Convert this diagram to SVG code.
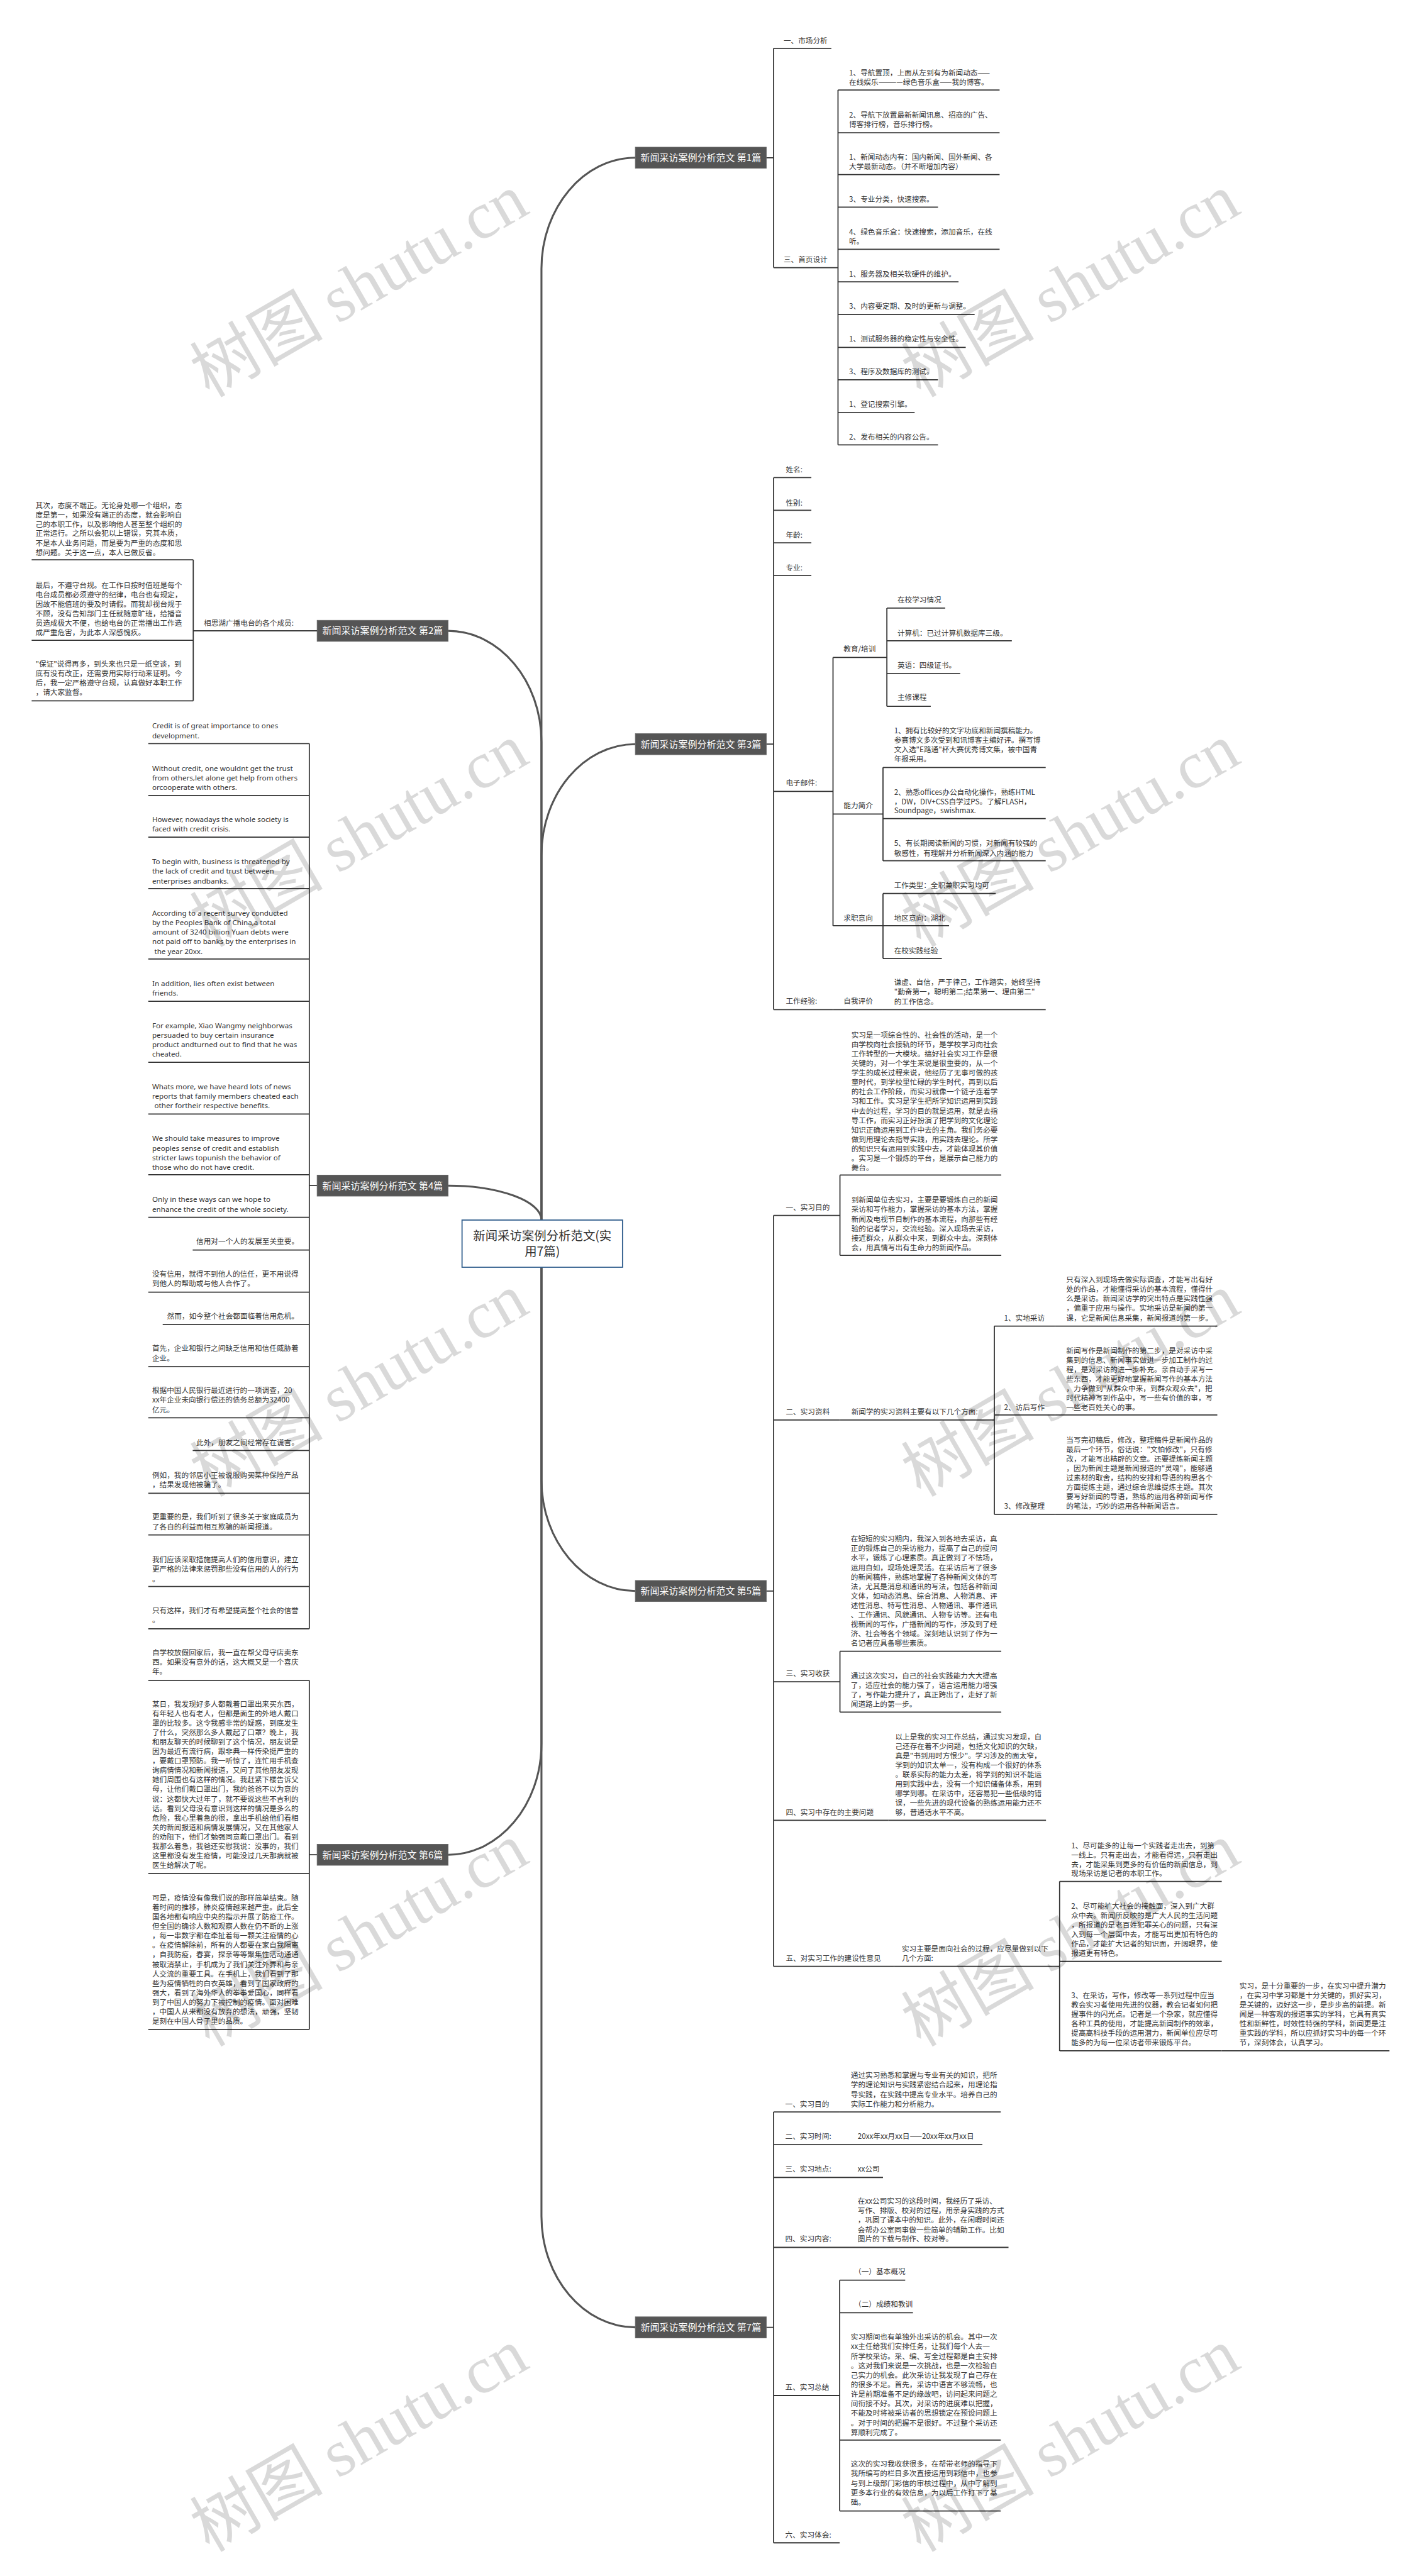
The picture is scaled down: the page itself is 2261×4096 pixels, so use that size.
<svg xmlns="http://www.w3.org/2000/svg" width="2261" height="4096" viewBox="0 0 2261 4096">
<style>
.t{font-family:"Noto Sans CJK SC","Noto Sans",sans-serif;font-size:13.2px;fill:#333}
.e{font-family:"Noto Sans","Liberation Sans",sans-serif;font-size:13.2px;fill:#333}
.n{font-family:"Noto Sans CJK SC",sans-serif;font-size:17px;fill:#fff;text-anchor:middle}
.c{font-family:"Noto Sans CJK SC",sans-serif;font-size:22px;fill:#333;text-anchor:middle}
.r{text-anchor:end}
.u,.v{stroke:#333;stroke-width:2;fill:none}
.m{stroke:#555;stroke-width:3.5;fill:none}
.b{fill:#555;stroke:#666;stroke-width:1}
.w{font-family:"Noto Sans CJK SC",sans-serif;font-size:120px;fill:#000;fill-opacity:0.15;text-anchor:middle}
</style>
<rect width="2261" height="4096" fill="#fff"/>
<g transform="scale(0.883)">
<g id="connectors">
<path class="m" d="M975 2197 L975 484 C975 374 1051 284 1144 284"/>
<path class="m" d="M975 2197 L975 1336 C975 1226 899 1136 807 1136"/>
<path class="m" d="M975 2197 L975 1540 C975 1430 1051 1340 1144 1340"/>
<path class="m" d="M975 2197 C975 2163 899 2135 807 2135"/>
<path class="m" d="M975 2282 L975 2665 C975 2775 1051 2865 1144 2865"/>
<path class="m" d="M975 2282 L975 3140 C975 3250 899 3340 807 3340"/>
<path class="m" d="M975 2282 L975 3991 C975 4101 1051 4191 1144 4191"/>
<path class="v" d="M1380 284H1393M1393 87V482M1509 162V801"/>
<path class="v" d="M1380 1340H1393M1393 860V1818M1500 1184V1667M1597 1095V1272M1590 1382V1550M1590 1609V1726"/>
<path class="v" d="M571 1136H348M348 1008V1262"/>
<path class="v" d="M571 2135H557M557 1339V2933"/>
<path class="v" d="M571 3340H557M557 3026V3654.5"/>
<path class="v" d="M1380 2865H1393M1393 2188.7V3541M1512.5 2116V2260.5M1790.5 2388V2727M1512.5 2973.6V3083M1908 3388V3693"/>
<path class="v" d="M1380 4191H1393M1393 3803V4579M1512 4106V4521.6"/>
</g>
<g id="center"><rect x="832" y="2197" width="289" height="85" fill="#fff" stroke="#2f5d8c" stroke-width="2"/><text class="c" x="976.5" y="2233">新闻采访案例分析范文(实<tspan x="976.5" y="2262">用7篇)</tspan></text></g>
<g id="node1"><rect class="b" x="1144" y="265" width="236" height="38"/><text class="n" x="1262" y="290">新闻采访案例分析范文 第1篇</text></g>
<g id="node2"><rect class="b" x="571" y="1117" width="236" height="38"/><text class="n" x="689" y="1142">新闻采访案例分析范文 第2篇</text></g>
<g id="node3"><rect class="b" x="1144" y="1321" width="236" height="38"/><text class="n" x="1262" y="1346">新闻采访案例分析范文 第3篇</text></g>
<g id="node4"><rect class="b" x="571" y="2116" width="236" height="38"/><text class="n" x="689" y="2141">新闻采访案例分析范文 第4篇</text></g>
<g id="node5"><rect class="b" x="1144" y="2846" width="236" height="38"/><text class="n" x="1262" y="2871">新闻采访案例分析范文 第5篇</text></g>
<g id="node6"><rect class="b" x="571" y="3321" width="236" height="38"/><text class="n" x="689" y="3346">新闻采访案例分析范文 第6篇</text></g>
<g id="node7"><rect class="b" x="1144" y="4172" width="236" height="38"/><text class="n" x="1262" y="4197">新闻采访案例分析范文 第7篇</text></g>

<g id="b1-1"><text class="t" x="1411" y="78">一、市场分析</text><path class="u" d="M1393 87H1497"/></g>
<g id="b1-3"><text class="t" x="1411" y="472">三、首页设计</text><path class="u" d="M1393 482H1509"/></g>
<g id="b1-a"><text class="t"><tspan x="1529" y="136">1、导航置顶，上面从左到有为新闻动态——</tspan><tspan x="1529" y="153">在线娱乐————绿色音乐盒——我的博客。</tspan></text><path class="u" d="M1509 162H1800"/></g>
<g id="b1-b"><text class="t"><tspan x="1529" y="212">2、导航下放置最新新闻讯息、招商的广告、</tspan><tspan x="1529" y="229">博客排行榜，音乐排行榜。</tspan></text><path class="u" d="M1509 239H1800"/></g>
<g id="b1-c"><text class="t"><tspan x="1529" y="288">1、新闻动态内有：国内新闻、国外新闻、各</tspan><tspan x="1529" y="304.5">大学最新动态。（并不断增加内容）</tspan></text><path class="u" d="M1509 314.5H1800"/></g>
<g id="b1-d"><text class="t" x="1529" y="363">3、专业分类，快速搜索。</text><path class="u" d="M1509 373H1689"/></g>
<g id="b1-e"><text class="t"><tspan x="1529" y="422">4、绿色音乐盒：快速搜索，添加音乐，在线</tspan><tspan x="1529" y="439">听。</tspan></text><path class="u" d="M1509 449H1800"/></g>
<g id="b1-f"><text class="t" x="1529" y="498">1、服务器及相关软硬件的维护。</text><path class="u" d="M1509 507.5H1726"/></g>
<g id="b1-g"><text class="t" x="1529" y="556">3、内容要定期、及时的更新与调整。</text><path class="u" d="M1509 566.5H1755"/></g>
<g id="b1-h"><text class="t" x="1529" y="615">1、测试服务器的稳定性与安全性。</text><path class="u" d="M1509 625.5H1739"/></g>
<g id="b1-i"><text class="t" x="1529" y="674">3、程序及数据库的测试。</text><path class="u" d="M1509 684H1689"/></g>
<g id="b1-j"><text class="t" x="1529" y="733">1、登记搜索引擎。</text><path class="u" d="M1509 743H1647"/></g>
<g id="b1-k"><text class="t" x="1529" y="792">2、发布相关的内容公告。</text><path class="u" d="M1509 801H1689"/></g>

<g id="b3-name"><text class="t" x="1415" y="850">姓名:</text><path class="u" d="M1393 860H1461"/></g>
<g id="b3-sex"><text class="t" x="1415" y="910">性别:</text><path class="u" d="M1393 919H1461"/></g>
<g id="b3-age"><text class="t" x="1415" y="968">年龄:</text><path class="u" d="M1393 977.5H1461"/></g>
<g id="b3-major"><text class="t" x="1415" y="1027">专业:</text><path class="u" d="M1393 1036H1461"/></g>
<g id="b3-mail"><text class="t" x="1415" y="1415">电子邮件:</text><path class="u" d="M1393 1425H1500"/></g>
<g id="b3-edu"><text class="t" x="1519" y="1173">教育/培训</text><path class="u" d="M1500 1184H1597"/></g>
<g id="b3-edu1"><text class="t" x="1616" y="1085">在校学习情况</text><path class="u" d="M1597 1095H1702"/></g>
<g id="b3-edu2"><text class="t" x="1616" y="1145">计算机：已过计算机数据库三级。</text><path class="u" d="M1597 1154H1822"/></g>
<g id="b3-edu3"><text class="t" x="1616" y="1203">英语：四级证书。</text><path class="u" d="M1597 1213H1729"/></g>
<g id="b3-edu4"><text class="t" x="1616" y="1261">主修课程</text><path class="u" d="M1597 1272H1676"/></g>
<g id="b3-abl"><text class="t" x="1519" y="1455">能力简介</text><path class="u" d="M1500 1466H1590"/></g>
<g id="b3-abl1"><text class="t"><tspan x="1610" y="1321">1、拥有比较好的文字功底和新闻撰稿能力。</tspan><tspan x="1610" y="1338">参赛博文多次受到和讯博客主编好评。撰写博</tspan><tspan x="1610" y="1355">文入选"E路通"杯大赛优秀博文集，被中国青</tspan><tspan x="1610" y="1371">年报采用。</tspan></text><path class="u" d="M1590 1382H1883"/></g>
<g id="b3-abl2"><text class="t"><tspan x="1610" y="1431">2、熟悉offices办公自动化操作，熟练HTML</tspan><tspan x="1610" y="1448">，DW，DIV+CSS自学过PS。了解FLASH，</tspan><tspan x="1610" y="1464">Soundpage，swishmax.</tspan></text><path class="u" d="M1590 1474H1883"/></g>
<g id="b3-abl3"><text class="t"><tspan x="1610" y="1523">5、有长期阅读新闻的习惯，对新闻有较强的</tspan><tspan x="1610" y="1541">敏感性，有理解并分析新闻深入内涵的能力</tspan></text><path class="u" d="M1590 1550H1883"/></g>
<g id="b3-job"><text class="t" x="1519" y="1658">求职意向</text><path class="u" d="M1500 1667H1590"/></g>
<g id="b3-job1"><text class="t" x="1610" y="1599">工作类型：全职兼职实习均可</text><path class="u" d="M1590 1609H1793"/></g>
<g id="b3-job2"><text class="t" x="1610" y="1658">地区意向：湖北</text><path class="u" d="M1590 1667H1709"/></g>
<g id="b3-job3"><text class="t" x="1610" y="1717">在校实践经验</text><path class="u" d="M1590 1726H1696"/></g>
<g id="b3-work"><text class="t" x="1415" y="1808">工作经验:</text><path class="u" d="M1393 1818H1500"/></g>
<g id="b3-self"><text class="t" x="1519" y="1808">自我评价</text><path class="u" d="M1500 1818H1590"/></g>
<g id="b3-self1"><text class="t"><tspan x="1610" y="1774">谦虚、自信，严于律己，工作踏实，始终坚持</tspan><tspan x="1610" y="1791">"勤奋第一，聪明第二;结果第一、理由第二"</tspan><tspan x="1610" y="1809">的工作信念。</tspan></text><path class="u" d="M1590 1818H1883"/></g>

<g id="b2-0"><text class="t" x="367" y="1127">相思湖广播电台的各个成员:</text><path class="u" d="M348 1136H571"/></g>
<g id="b2-1"><text class="t"><tspan x="64" y="914.5">其次，态度不端正。无论身处哪一个组织，态</tspan><tspan x="64" y="931.5">度是第一，如果没有端正的态度，就会影响自</tspan><tspan x="64" y="948.5">己的本职工作，以及影响他人甚至整个组织的</tspan><tspan x="64" y="965">正常运行。之所以会犯以上错误，究其本质，</tspan><tspan x="64" y="982.5">不是本人业务问题，而是要为严重的态度和思</tspan><tspan x="64" y="1000">想问题。关于这一点，本人已做反省。</tspan></text><path class="u" d="M57 1008H348"/></g>
<g id="b2-2"><text class="t"><tspan x="64" y="1058.5">最后，不遵守台规。在工作日按时值班是每个</tspan><tspan x="64" y="1076">电台成员都必须遵守的纪律，电台也有规定，</tspan><tspan x="64" y="1092.5">因故不能值班的要及时请假。而我却视台规于</tspan><tspan x="64" y="1109.5">不顾，没有告知部门主任就随意旷班，给播音</tspan><tspan x="64" y="1126.5">员造成极大不便，也给电台的正常播出工作造</tspan><tspan x="64" y="1143.5">成严重危害，为此本人深感愧疚。</tspan></text><path class="u" d="M57 1153H348"/></g>
<g id="b2-3"><text class="t"><tspan x="64" y="1200">"保证"说得再多，到头来也只是一纸空谈，到</tspan><tspan x="64" y="1217">底有没有改正，还需要用实际行动来证明。今</tspan><tspan x="64" y="1234">后，我一定严格遵守台规，认真做好本职工作</tspan><tspan x="64" y="1251">，请大家监督。</tspan></text><path class="u" d="M57 1262H348"/></g>

<g id="b4-1"><text class="e"><tspan x="274" y="1312">Credit is of great importance to ones</tspan><tspan x="274" y="1329">development.</tspan></text><path class="u" d="M267 1339H557"/></g>
<g id="b4-2"><text class="e"><tspan x="274" y="1388">Without credit, one wouldnt get the trust</tspan><tspan x="274" y="1405">from others,let alone get help from others</tspan><tspan x="274" y="1422">orcooperate with others.</tspan></text><path class="u" d="M267 1432.5H557"/></g>
<g id="b4-3"><text class="e"><tspan x="274" y="1480.5">However, nowadays the whole society is</tspan><tspan x="274" y="1497.5">faced with credit crisis.</tspan></text><path class="u" d="M267 1507.5H557"/></g>
<g id="b4-4"><text class="e"><tspan x="274" y="1556.5">To begin with, business is threatened by</tspan><tspan x="274" y="1573.5">the lack of credit and trust between</tspan><tspan x="274" y="1591">enterprises andbanks.</tspan></text><path class="u" d="M267 1600H557"/></g>
<g id="b4-5"><text class="e"><tspan x="274" y="1649">According to a recent survey conducted</tspan><tspan x="274" y="1666">by the Peoples Bank of China,a total</tspan><tspan x="274" y="1683">amount of 3240 billion Yuan debts were</tspan><tspan x="274" y="1700">not paid off to banks by the enterprises in</tspan><tspan x="278" y="1718">the year 20xx.</tspan></text><path class="u" d="M267 1727H557"/></g>
<g id="b4-6"><text class="e"><tspan x="274" y="1776">In addition, lies often exist between</tspan><tspan x="274" y="1793">friends.</tspan></text><path class="u" d="M267 1803H557"/></g>
<g id="b4-7"><text class="e"><tspan x="274" y="1852">For example, Xiao Wangmy neighborwas</tspan><tspan x="274" y="1869">persuaded to buy certain insurance</tspan><tspan x="274" y="1886">product andturned out to find that he was</tspan><tspan x="274" y="1903">cheated.</tspan></text><path class="u" d="M267 1913H557"/></g>
<g id="b4-8"><text class="e"><tspan x="274" y="1961.5">Whats more, we have heard lots of news</tspan><tspan x="274" y="1978.5">reports that family members cheated each</tspan><tspan x="278" y="1996">other fortheir respective benefits.</tspan></text><path class="u" d="M267 2006H557"/></g>
<g id="b4-9"><text class="e"><tspan x="274" y="2054.5">We should take measures to improve</tspan><tspan x="274" y="2072">peoples sense of credit and establish</tspan><tspan x="274" y="2089">stricter laws topunish the behavior of</tspan><tspan x="274" y="2106">those who do not have credit.</tspan></text><path class="u" d="M267 2115.5H557"/></g>
<g id="b4-10"><text class="e"><tspan x="274" y="2164">Only in these ways can we hope to</tspan><tspan x="274" y="2182">enhance the credit of the whole society.</tspan></text><path class="u" d="M267 2192H557"/></g>
<g id="b4-11"><text class="t r" x="538" y="2240">信用对一个人的发展至关重要。</text><path class="u" d="M347 2251H557"/></g>
<g id="b4-12"><text class="t"><tspan x="274" y="2299">没有信用，就得不到他人的信任，更不用说得</tspan><tspan x="274" y="2316">到他人的帮助或与他人合作了。</tspan></text><path class="u" d="M267 2327H557"/></g>
<g id="b4-13"><text class="t r" x="538" y="2374.5">然而，如今整个社会都面临着信用危机。</text><path class="u" d="M293 2385H557"/></g>
<g id="b4-14"><text class="t"><tspan x="274" y="2433">首先，企业和银行之间缺乏信用和信任威胁着</tspan><tspan x="274" y="2451">企业。</tspan></text><path class="u" d="M267 2461H557"/></g>
<g id="b4-15"><text class="t"><tspan x="274" y="2509">根据中国人民银行最近进行的一项调查，20</tspan><tspan x="274" y="2526">xx年企业未向银行偿还的债务总额为32400</tspan><tspan x="274" y="2544">亿元。</tspan></text><path class="u" d="M267 2553H557"/></g>
<g id="b4-16"><text class="t r" x="538" y="2602">此外，朋友之间经常存在谎言。</text><path class="u" d="M347 2612H557"/></g>
<g id="b4-17"><text class="t"><tspan x="274" y="2661">例如，我的邻居小王被说服购买某种保险产品</tspan><tspan x="274" y="2678">，结果发现他被骗了。</tspan></text><path class="u" d="M267 2689H557"/></g>
<g id="b4-18"><text class="t"><tspan x="274" y="2736.5">更重要的是，我们听到了很多关于家庭成员为</tspan><tspan x="274" y="2754">了各自的利益而相互欺骗的新闻报道。</tspan></text><path class="u" d="M267 2764H557"/></g>
<g id="b4-19"><text class="t"><tspan x="274" y="2813">我们应该采取措施提高人们的信用意识，建立</tspan><tspan x="274" y="2830">更严格的法律来惩罚那些没有信用的人的行为</tspan><tspan x="274" y="2848">。</tspan></text><path class="u" d="M267 2857H557"/></g>
<g id="b4-20"><text class="t"><tspan x="274" y="2905">只有这样，我们才有希望提高整个社会的信誉</tspan><tspan x="274" y="2922">。</tspan></text><path class="u" d="M267 2933H557"/></g>

<g id="b6-1"><text class="t"><tspan x="274" y="2981">自学校放假回家后，我一直在帮父母守店卖东</tspan><tspan x="274" y="2998">西。如果没有意外的话，这大概又是一个喜庆</tspan><tspan x="274" y="3015">年。</tspan></text><path class="u" d="M267 3026H557"/></g>
<g id="b6-2"><text class="t"><tspan x="274" y="3074">某日，我发现好多人都戴着口罩出来买东西，</tspan><tspan x="274" y="3091">有年轻人也有老人，但都是面生的外地人戴口</tspan><tspan x="274" y="3108">罩的比较多。这令我感非常的疑惑，到底发生</tspan><tspan x="274" y="3125">了什么，突然那么多人戴起了口罩？晚上，我</tspan><tspan x="274" y="3142">和朋友聊天的时候聊到了这个情况，朋友说是</tspan><tspan x="274" y="3159">因为最近有流行病，跟非典一样传染挺严重的</tspan><tspan x="274" y="3176">，要戴口罩预防。我一听惊了，连忙用手机查</tspan><tspan x="274" y="3193">询病情情况和新闻报道，又问了其他朋友发现</tspan><tspan x="274" y="3210">她们周围也有这样的情况。我赶紧下楼告诉父</tspan><tspan x="274" y="3227">母，让他们戴口罩出门，我的爸爸不以为意的</tspan><tspan x="274" y="3244.5">说：这都快大过年了，就不要说这些不吉利的</tspan><tspan x="274" y="3261.5">话。看到父母没有意识到这样的情况是多么的</tspan><tspan x="274" y="3278.5">危险，我心里着急的很，拿出手机给他们看相</tspan><tspan x="274" y="3295.5">关的新闻报道和病情发展情况，又在其他家人</tspan><tspan x="274" y="3312.5">的劝阻下，他们才勉强同意戴口罩出门。看到</tspan><tspan x="274" y="3329.5">我那么着急，我爸还安慰我说：没事的，我们</tspan><tspan x="274" y="3346.5">这里都没有发生疫情，可能没过几天那病就被</tspan><tspan x="274" y="3364">医生给解决了呢。</tspan></text><path class="u" d="M267 3373.5H557"/></g>
<g id="b6-3"><text class="t"><tspan x="274" y="3422">可是，疫情没有像我们说的那样简单结束。随</tspan><tspan x="274" y="3439">着时间的推移，肺炎疫情越来越严重。此后全</tspan><tspan x="274" y="3456">国各地都有响应中央的指示开展了防疫工作。</tspan><tspan x="274" y="3473.5">但全国的确诊人数和观察人数在仍不断的上涨</tspan><tspan x="274" y="3490.5">，每一串数字都在牵扯着每一颗关注疫情的心</tspan><tspan x="274" y="3507.5">。在疫情解除前，所有的人都要在家自我隔离</tspan><tspan x="274" y="3524.5">，自我防疫，春宴，探亲等等聚集性活动通通</tspan><tspan x="274" y="3542">被取消禁止，手机成为了我们关注外界和与亲</tspan><tspan x="274" y="3559">人交流的重要工具。在手机上，我们看到了那</tspan><tspan x="274" y="3576">些为疫情牺牲的白衣英雄，看到了国家政府的</tspan><tspan x="274" y="3593">强大，看到了海外华人的拳拳爱国心，同样看</tspan><tspan x="274" y="3610">到了中国人的努力下被控制的疫情。面对困难</tspan><tspan x="274" y="3627">，中国人从来都没有放弃的想法，顽强，坚韧</tspan><tspan x="274" y="3644.5">是刻在中国人骨子里的品质。</tspan></text><path class="u" d="M267 3654.5H557"/></g>

<g id="b5-1"><text class="t" x="1415" y="2178.5">一、实习目的</text><path class="u" d="M1393 2188.7H1512.5"/></g>
<g id="b5-1a"><text class="t"><tspan x="1533" y="1869">实习是一项综合性的、社会性的活动，是一个</tspan><tspan x="1533" y="1886">由学校向社会接轨的环节，是学校学习向社会</tspan><tspan x="1533" y="1903">工作转型的一大模块。搞好社会实习工作是很</tspan><tspan x="1533" y="1920">关键的，对一个学生来说是很重要的，从一个</tspan><tspan x="1533" y="1937">学生的成长过程来说，他经历了无事可做的孩</tspan><tspan x="1533" y="1954">童时代，到学校里忙碌的学生时代，再到以后</tspan><tspan x="1533" y="1971">的社会工作阶段，而实习就像一个链子连着学</tspan><tspan x="1533" y="1988">习和工作。实习是学生把所学知识运用到实践</tspan><tspan x="1533" y="2005.5">中去的过程，学习的目的就是运用，就是去指</tspan><tspan x="1533" y="2022.5">导工作，而实习正好扮演了把学到的文化理论</tspan><tspan x="1533" y="2039.5">知识正确运用到工作中去的主角。我们务必要</tspan><tspan x="1533" y="2056.5">做到用理论去指导实践，用实践去理论。所学</tspan><tspan x="1533" y="2073.5">的知识只有运用到实践中去，才能体现其价值</tspan><tspan x="1533" y="2090.5">。实习是一个锻炼的平台，是展示自己能力的</tspan><tspan x="1533" y="2107.5">舞台。</tspan></text><path class="u" d="M1512.5 2116H1803"/></g>
<g id="b5-1b"><text class="t"><tspan x="1533" y="2165.5">到新闻单位去实习，主要是要锻炼自己的新闻</tspan><tspan x="1533" y="2182.5">采访和写作能力，掌握采访的基本方法，掌握</tspan><tspan x="1533" y="2200">新闻及电视节目制作的基本流程，向那些有经</tspan><tspan x="1533" y="2217">验的记者学习，交流经验。深入现场去采访，</tspan><tspan x="1533" y="2234.5">接近群众，从群众中来，到群众中去。深刻体</tspan><tspan x="1533" y="2251.5">会，用真情写出有生命力的新闻作品。</tspan></text><path class="u" d="M1512.5 2260.5H1803"/></g>
<g id="b5-2"><text class="t" x="1415" y="2547">二、实习资料</text><path class="u" d="M1393 2557H1512.5"/></g>
<g id="b5-2a"><text class="t" x="1533" y="2547">新闻学的实习资料主要有以下几个方面:</text><path class="u" d="M1512.5 2557H1790.5"/></g>
<g id="b5-2a1"><text class="t" x="1808" y="2378">1、实地采访</text><path class="u" d="M1790.5 2388H1900"/></g>
<g id="b5-2a1t"><text class="t"><tspan x="1920" y="2309">只有深入到现场去做实际调查，才能写出有好</tspan><tspan x="1920" y="2326">处的作品，才能懂得采访的基本流程，懂得什</tspan><tspan x="1920" y="2343">么是采访。新闻采访学的突出特点是实践性强</tspan><tspan x="1920" y="2360">，偏重于应用与操作。实地采访是新闻的第一</tspan><tspan x="1920" y="2378">课，它是新闻信息采集，新闻报道的第一步。</tspan></text><path class="u" d="M1900 2388H2192"/></g>
<g id="b5-2a2"><text class="t" x="1808" y="2539">2、访后写作</text><path class="u" d="M1790.5 2548H1900"/></g>
<g id="b5-2a2t"><text class="t"><tspan x="1920" y="2437">新闻写作是新闻制作的第二步，是对采访中采</tspan><tspan x="1920" y="2454">集到的信息、新闻事实做进一步加工制作的过</tspan><tspan x="1920" y="2471">程，是对采访的进一步补充。亲自动手采写一</tspan><tspan x="1920" y="2488">些东西，才能更好地掌握新闻写作的基本方法</tspan><tspan x="1920" y="2505">，力争做到"从群众中来，到群众观众去"，把</tspan><tspan x="1920" y="2522">时代精神写到作品中，写一些有价值的事，写</tspan><tspan x="1920" y="2539">一些老百姓关心的事。</tspan></text><path class="u" d="M1900 2548H2192"/></g>
<g id="b5-2a3"><text class="t" x="1808" y="2717">3、修改整理</text><path class="u" d="M1790.5 2727H1900"/></g>
<g id="b5-2a3t"><text class="t"><tspan x="1920" y="2598">当写完初稿后，修改，整理稿件是新闻作品的</tspan><tspan x="1920" y="2615">最后一个环节，俗话说："文怕修改"，只有修</tspan><tspan x="1920" y="2632">改，才能写出精辟的文章。还要提炼新闻主题</tspan><tspan x="1920" y="2649">，因为新闻主题是新闻报道的"灵魂"，能够通</tspan><tspan x="1920" y="2666">过素材的取舍，结构的安排和导语的构思各个</tspan><tspan x="1920" y="2683">方面提炼主题，通过综合思维提炼主题。其次</tspan><tspan x="1920" y="2700">要写好新闻的导语，熟练的运用各种新闻写作</tspan><tspan x="1920" y="2717">的笔法，巧妙的运用各种新闻语言。</tspan></text><path class="u" d="M1900 2727H2192"/></g>
<g id="b5-3"><text class="t" x="1415" y="3018.5">三、实习收获</text><path class="u" d="M1393 3028.5H1512.5"/></g>
<g id="b5-3a"><text class="t"><tspan x="1532" y="2776">在短短的实习期内，我深入到各地去采访，真</tspan><tspan x="1532" y="2793">正的锻炼自己的采访能力，提高了自己的提问</tspan><tspan x="1532" y="2810">水平，锻炼了心理素质。真正做到了不怯场，</tspan><tspan x="1532" y="2827.5">运用自如，现场处理灵活。在采访后写了很多</tspan><tspan x="1532" y="2844.5">的新闻稿件，熟练地掌握了各种新闻文体的写</tspan><tspan x="1532" y="2861.5">法，尤其是消息和通讯的写法，包括各种新闻</tspan><tspan x="1532" y="2878.5">文体，如动态消息、综合消息、人物消息、评</tspan><tspan x="1532" y="2895.5">述性消息、特写性消息、人物通讯、事件通讯</tspan><tspan x="1532" y="2913">、工作通讯、风貌通讯、人物专访等。还有电</tspan><tspan x="1532" y="2930">视新闻的写作，广播新闻的写作，涉及到了经</tspan><tspan x="1532" y="2947">济、社会等各个领域。深刻地认识到了作为一</tspan><tspan x="1532" y="2964">名记者应具备哪些素质。</tspan></text><path class="u" d="M1512.5 2973.6H1803"/></g>
<g id="b5-3b"><text class="t"><tspan x="1532" y="3022.5">通过这次实习，自己的社会实践能力大大提高</tspan><tspan x="1532" y="3039.5">了，适应社会的能力强了，语言运用能力增强</tspan><tspan x="1532" y="3056.5">了，写作能力提升了，真正跨出了，走好了新</tspan><tspan x="1532" y="3073.5">闻道路上的第一步。</tspan></text><path class="u" d="M1512.5 3083H1803"/></g>
<g id="b5-4"><text class="t" x="1415" y="3268">四、实习中存在的主要问题</text><path class="u" d="M1393 3278H1600"/></g>
<g id="b5-4a"><text class="t"><tspan x="1612" y="3132">以上是我的实习工作总结，通过实习发现，自</tspan><tspan x="1612" y="3149">己还存在着不少问题，包括文化知识的欠缺，</tspan><tspan x="1612" y="3166">真是"书到用时方恨少"。学习涉及的面太窄，</tspan><tspan x="1612" y="3183">学到的知识太单一，没有构成一个很好的体系</tspan><tspan x="1612" y="3200">。联系实际的能力太差，将学到的知识不能运</tspan><tspan x="1612" y="3217">用到实践中去，没有一个知识储备体系，用到</tspan><tspan x="1612" y="3234">哪学到哪。在采访中，还容易犯一些低级的错</tspan><tspan x="1612" y="3251">误，一些先进的现代设备的熟练运用能力还不</tspan><tspan x="1612" y="3268">够，普通话水平不高。</tspan></text><path class="u" d="M1600 3278H1883.5"/></g>
<g id="b5-5"><text class="t" x="1415" y="3531.5">五、对实习工作的建设性意见</text><path class="u" d="M1393 3541H1610"/></g>
<g id="b5-5a"><text class="t"><tspan x="1624" y="3514">实习主要是面向社会的过程，应尽量做到以下</tspan><tspan x="1624" y="3531.5">几个方面:</tspan></text><path class="u" d="M1610 3541H1908"/></g>
<g id="b5-5a1"><text class="t"><tspan x="1929" y="3328">1、尽可能多的让每一个实践者走出去，到第</tspan><tspan x="1929" y="3345">一线上。只有走出去，才能看得远，只有走出</tspan><tspan x="1929" y="3362">去，才能采集到更多的有价值的新闻信息，到</tspan><tspan x="1929" y="3378.5">现场采访是记者的本职工作。</tspan></text><path class="u" d="M1908 3388H2200"/></g>
<g id="b5-5a2"><text class="t"><tspan x="1929" y="3437.5">2、尽可能扩大社会的接触面，深入到广大群</tspan><tspan x="1929" y="3454.5">众中去。新闻所反映的是广大人民的生活问题</tspan><tspan x="1929" y="3471.5">，所报道的是老百姓犯罪关心的问题，只有深</tspan><tspan x="1929" y="3488.5">入到每一个层面中去，才能写出更加有特色的</tspan><tspan x="1929" y="3505.5">作品，才能扩大记者的知识面，开阔眼界，使</tspan><tspan x="1929" y="3522.5">报道更有特色。</tspan></text><path class="u" d="M1908 3532H2200"/></g>
<g id="b5-5a3"><text class="t"><tspan x="1929" y="3598">3、在采访，写作，修改等一系列过程中应当</tspan><tspan x="1929" y="3615">教会实习者使用先进的仪器，教会记者如何把</tspan><tspan x="1929" y="3632">握事件的闪光点。记者是一个杂家，就应懂得</tspan><tspan x="1929" y="3649">各种工具的使用，才能提高新闻制作的效率，</tspan><tspan x="1929" y="3666">提高高科技手段的运用潜力，新闻单位应尽可</tspan><tspan x="1929" y="3683">能多的为每一位采访者带来锻炼平台。</tspan></text><path class="u" d="M1908 3693H2200"/></g>
<g id="b5-5a3a"><text class="t"><tspan x="2232" y="3581">实习，是十分重要的一步，在实习中提升潜力</tspan><tspan x="2232" y="3598">，在实习中学习都是十分关键的，抓好实习，</tspan><tspan x="2232" y="3615">是关键的，迈好这一步，是步步高的前提。新</tspan><tspan x="2232" y="3632">闻是一种客观的报道事实的学科，它具有真实</tspan><tspan x="2232" y="3649">性和新鲜性，时效性特强的学科，新闻更是注</tspan><tspan x="2232" y="3666">重实践的学科，所以应抓好实习中的每一个环</tspan><tspan x="2232" y="3683">节，深刻体会，认真学习。</tspan></text><path class="u" d="M2200 3693H2502"/></g>

<g id="b7-1"><text class="t" x="1414" y="3794">一、实习目的</text><path class="u" d="M1393 3803H1512"/></g>
<g id="b7-1a"><text class="t"><tspan x="1532" y="3742">通过实习熟悉和掌握与专业有关的知识，把所</tspan><tspan x="1532" y="3759">学的理论知识与实践紧密结合起来，用理论指</tspan><tspan x="1532" y="3777">导实践，在实践中提高专业水平。培养自己的</tspan><tspan x="1532" y="3794">实际工作能力和分析能力。</tspan></text><path class="u" d="M1512 3803H1802"/></g>
<g id="b7-2"><text class="t" x="1414" y="3851.5">二、实习时间:</text><path class="u" d="M1393 3862H1530"/></g>
<g id="b7-2a"><text class="t" x="1544.5" y="3851.5">20xx年xx月xx日——20xx年xx月xx日</text><path class="u" d="M1530 3862H1769"/></g>
<g id="b7-3"><text class="t" x="1414" y="3910.5">三、实习地点:</text><path class="u" d="M1393 3921H1530"/></g>
<g id="b7-3a"><text class="t" x="1544.5" y="3910.5">xx公司</text><path class="u" d="M1530 3921H1590"/></g>
<g id="b7-4"><text class="t" x="1414" y="4036.5">四、实习内容:</text><path class="u" d="M1393 4047H1530"/></g>
<g id="b7-4a"><text class="t"><tspan x="1544.5" y="3968.5">在xx公司实习的这段时间，我经历了采访、</tspan><tspan x="1544.5" y="3985.5">写作、排版、校对的过程，用亲身实践的方式</tspan><tspan x="1544.5" y="4002.5">，巩固了课本中的知识。此外，在闲暇时间还</tspan><tspan x="1544.5" y="4020">会帮办公室同事做一些简单的辅助工作。比如</tspan><tspan x="1544.5" y="4036.5">图片的下载与制作、校对等。</tspan></text><path class="u" d="M1530 4047H1816"/></g>
<g id="b7-5"><text class="t" x="1414" y="4303.5">五、实习总结</text><path class="u" d="M1393 4313.7H1512"/></g>
<g id="b7-5a"><text class="t" x="1538" y="4095.5">（一）基本概况</text><path class="u" d="M1512 4106H1630"/></g>
<g id="b7-5b"><text class="t" x="1538" y="4154.5">（二）成绩和教训</text><path class="u" d="M1512 4164.7H1644"/></g>
<g id="b7-5c"><text class="t"><tspan x="1532" y="4213">实习期间也有单独外出采访的机会。其中一次</tspan><tspan x="1532" y="4230">xx主任给我们安排任务，让我们每个人去一</tspan><tspan x="1532" y="4247.5">所学校采访。采、编、写全过程都是自主安排</tspan><tspan x="1532" y="4264.5">。这对我们来说是一次挑战，也是一次检验自</tspan><tspan x="1532" y="4281.5">己实力的机会。此次采访让我发现了自己存在</tspan><tspan x="1532" y="4299">的很多不足。首先，采访中语言不够流畅，也</tspan><tspan x="1532" y="4316">许是前期准备不足的缘故吧，访问起来问题之</tspan><tspan x="1532" y="4333">间衔接不好。其次，对采访的进度难以把握，</tspan><tspan x="1532" y="4350">不能及时将被采访者的思想锁定在预设问题上</tspan><tspan x="1532" y="4367.5">。对于时间的把握不是很好。不过整个采访还</tspan><tspan x="1532" y="4384.5">算顺利完成了。</tspan></text><path class="u" d="M1512 4394H1802"/></g>
<g id="b7-5d"><text class="t"><tspan x="1532" y="4442">这次的实习我收获很多，在帮带老师的指导下</tspan><tspan x="1532" y="4459">我所编写的栏目多次直接运用到彩信中，也参</tspan><tspan x="1532" y="4476.5">与到上级部门彩信的审核过程中，从中了解到</tspan><tspan x="1532" y="4494">更多本行业的有效信息，为以后工作打下了基</tspan><tspan x="1532" y="4511">础。</tspan></text><path class="u" d="M1512 4521.6H1802"/></g>
<g id="b7-6"><text class="t" x="1414" y="4570">六、实习体会:</text><path class="u" d="M1393 4579H1512"/></g>

<g id="watermarks" class="w">
<text transform="translate(647 515) rotate(-30)" y="40">树图 <tspan font-family="Liberation Serif">shutu.cn</tspan></text>
<text transform="translate(1928 515) rotate(-30)" y="40">树图 <tspan font-family="Liberation Serif">shutu.cn</tspan></text>
<text transform="translate(647 1505) rotate(-30)" y="40">树图 <tspan font-family="Liberation Serif">shutu.cn</tspan></text>
<text transform="translate(1928 1505) rotate(-30)" y="40">树图 <tspan font-family="Liberation Serif">shutu.cn</tspan></text>
<text transform="translate(647 2495) rotate(-30)" y="40">树图 <tspan font-family="Liberation Serif">shutu.cn</tspan></text>
<text transform="translate(1928 2495) rotate(-30)" y="40">树图 <tspan font-family="Liberation Serif">shutu.cn</tspan></text>
<text transform="translate(647 3485) rotate(-30)" y="40">树图 <tspan font-family="Liberation Serif">shutu.cn</tspan></text>
<text transform="translate(1928 3485) rotate(-30)" y="40">树图 <tspan font-family="Liberation Serif">shutu.cn</tspan></text>
<text transform="translate(647 4395) rotate(-30)" y="40">树图 <tspan font-family="Liberation Serif">shutu.cn</tspan></text>
<text transform="translate(1928 4395) rotate(-30)" y="40">树图 <tspan font-family="Liberation Serif">shutu.cn</tspan></text>
</g>
</g>
</svg>
